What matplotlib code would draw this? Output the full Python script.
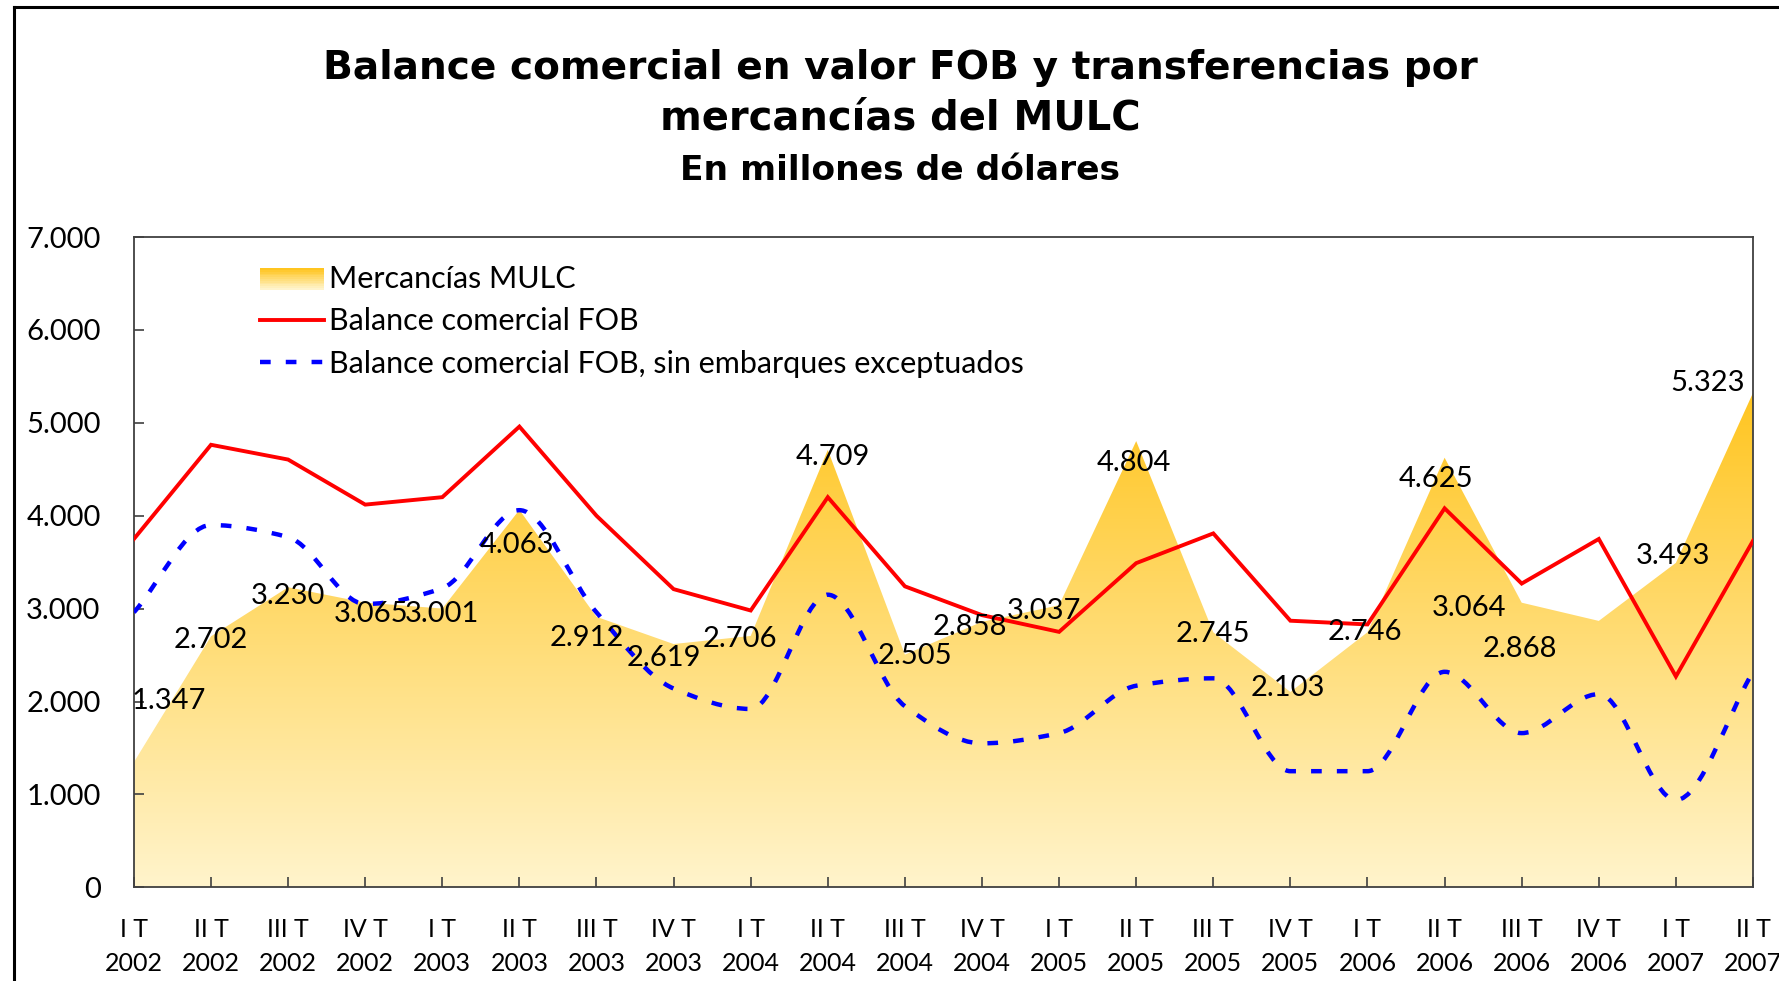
import numpy as np
import matplotlib
matplotlib.use('Agg')
import matplotlib.pyplot as plt
import matplotlib.colors as mcolors
from matplotlib.path import Path
from matplotlib.patches import PathPatch, Rectangle
from matplotlib.lines import Line2D
from matplotlib.legend_handler import HandlerBase

plt.rcParams['font.family'] = ['Lato', 'DejaVu Sans']

# data (millones de USD)
quarters = ['I T', 'II T', 'III T', 'IV T'] * 5 + ['I T', 'II T']
years = ['2002'] * 4 + ['2003'] * 4 + ['2004'] * 4 + ['2005'] * 4 + ['2006'] * 4 + ['2007'] * 2
mulc = [1347, 2702, 3230, 3065, 3001, 4063, 2912, 2619, 2706, 4709, 2505,
        2858, 3037, 4804, 2745, 2103, 2746, 4625, 3064, 2868, 3493, 5323]
fob = [3750, 4764, 4605, 4120, 4200, 4960, 4000, 3210, 2980, 4200, 3240,
       2930, 2750, 3490, 3810, 2870, 2830, 4080, 3270, 3750, 2270, 3730]
fob_sin = [2960, 3900, 3770, 3050, 3220, 4060, 2960, 2140, 1920, 3150, 1950,
           1550, 1660, 2170, 2250, 1250, 1250, 2320, 1660, 2080, 940, 2320]

# label offsets in points (dx, dy)
lab_dx = [25, 0, 0, 4, 0, -2, -7, -7, -8, 4, 7, -9, -11, -2, 0, -2, -2, -6, -38, -57, -2, -33]
lab_dy = [44, -3, -6, -8, -4, -25, -15, -10, -2, -5, -1, -4, -4, -16, -1, 3, 0, -15, -4, -20, 5, 7]

c_top = '#FFC520'
c_bot = '#FFF4CC'


def smooth_path(x, y):
    # monotone cubic (fritsch-carlson) as bezier segments
    x = np.asarray(x, float)
    y = np.asarray(y, float)
    h = np.diff(x)
    d = np.diff(y) / h
    m = np.zeros_like(y)
    m[0], m[-1] = d[0], d[-1]
    for i in range(1, len(y) - 1):
        if d[i - 1] * d[i] > 0:
            m[i] = 2 / (1 / d[i - 1] + 1 / d[i])
    verts = [(x[0], y[0])]
    codes = [Path.MOVETO]
    for i in range(len(x) - 1):
        verts += [(x[i] + h[i] / 3, y[i] + m[i] * h[i] / 3),
                  (x[i + 1] - h[i] / 3, y[i + 1] - m[i + 1] * h[i] / 3),
                  (x[i + 1], y[i + 1])]
        codes += [Path.CURVE4] * 3
    return Path(verts, codes)


class GradientHandler(HandlerBase):
    def create_artists(self, legend, orig_handle, xdescent, ydescent,
                       width, height, fontsize, trans):
        cmap = mcolors.LinearSegmentedColormap.from_list('g', [c_bot, c_top])
        arts = []
        n = 12
        for k in range(n):
            r = Rectangle((-xdescent, -ydescent + height * k / n - height * 0.1),
                          width, height * 1.2 / n, facecolor=cmap(k / (n - 1)),
                          edgecolor='none', transform=trans)
            arts.append(r)
        return arts


fig = plt.figure(figsize=(17.79, 9.81), dpi=100)
ax = fig.add_axes([133.9 / 1779, 1 - 887.3 / 981, (1753 - 133.9) / 1779, (887.3 - 237.1) / 981])

x = np.arange(len(mulc))

# gradient area
cmap = mcolors.LinearSegmentedColormap.from_list('gold', [c_bot, c_top])
grad = np.linspace(0, 1, 256).reshape(-1, 1)
poly = ax.fill_between(x, 0, mulc, facecolor='none', edgecolor='none')
img = ax.imshow(grad, extent=[0, 21, 0, max(mulc)], origin='lower', aspect='auto',
                cmap=cmap, zorder=1)
img.set_clip_path(poly.get_paths()[0], transform=ax.transData)

ax.plot(x, fob, color='#FF0000', lw=2.8, zorder=3, solid_joinstyle='miter')
blue = PathPatch(smooth_path(x, fob_sin), facecolor='none', edgecolor='#0000FF',
                 lw=3.2, linestyle=(0, (2.4, 3.4)), zorder=3)
ax.add_patch(blue)

for i, v in enumerate(mulc):
    s = f'{v / 1000:.3f}'
    ax.annotate(s, (x[i], v), xytext=(lab_dx[i], lab_dy[i]), textcoords='offset points',
                ha='center', va='center', fontsize=21, color='black', zorder=5,
                annotation_clip=False)

ax.set_xlim(0, 21)
ax.set_ylim(0, 7000)
ax.set_yticks(np.arange(0, 7001, 1000))
ax.set_yticklabels(['0'] + [f'{k}.000' for k in range(1, 8)])
ax.set_xticks(x)
ax.set_xticklabels([f'{q}\n{y}' for q, y in zip(quarters, years)], linespacing=1.6)
ax.tick_params(axis='y', direction='in', length=7, width=1.2, pad=24, labelsize=21, color='#404040')
ax.tick_params(axis='x', direction='in', length=7, width=1.2, pad=22, labelsize=18, color='#404040')
ax.tick_params(labelcolor='black')
for sp in ax.spines.values():
    sp.set_color('#404040')
    sp.set_linewidth(1.3)
ax.set_facecolor('white')

h1 = Rectangle((0, 0), 1, 1)
h2 = Line2D([], [], color='#FF0000', lw=2.8)
h3 = Line2D([], [], color='#0000FF', lw=3.2, linestyle=(0, (2.4, 3.4)))
leg = ax.legend([h1, h2, h3], ['Mercancías MULC', 'Balance comercial FOB',
                               'Balance comercial FOB, sin embarques exceptuados'],
                handler_map={Rectangle: GradientHandler()}, loc='upper left',
                bbox_to_anchor=(0.061, 1.0), frameon=False, fontsize=22,
                handlelength=2.1, handletextpad=0.15, labelspacing=0.48)

tfont = ['DejaVu Sans']
fig.text(0.506, 0.9307, 'Balance comercial en valor FOB y transferencias por',
         ha='center', va='center', fontsize=28.2, fontweight='bold', family=tfont)
fig.text(0.506, 0.8797, 'mercancías del MULC', ha='center', va='center',
         fontsize=28.8, fontweight='bold', family=tfont)
fig.text(0.506, 0.8267, 'En millones de dólares', ha='center', va='center',
         fontsize=24.8, fontweight='bold', family=tfont)

# outer frame (left and top edges visible)
fig.add_artist(Line2D([14 / 1779, 14 / 1779], [0, 1 - 7 / 981], color='black', lw=2.2,
                      transform=fig.transFigure))
fig.add_artist(Line2D([14 / 1779, 1], [1 - 7 / 981, 1 - 7 / 981], color='black', lw=2.2,
                      transform=fig.transFigure))

fig.savefig('out.png', dpi=100)
